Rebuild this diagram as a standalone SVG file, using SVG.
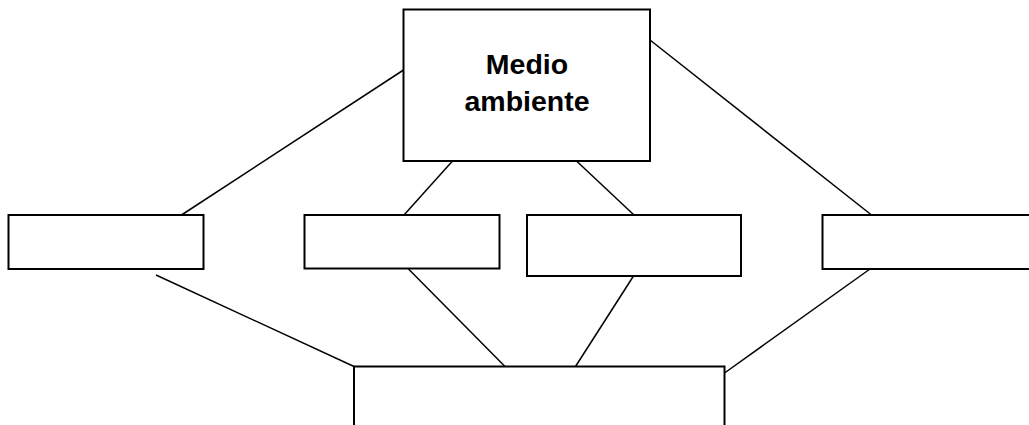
<svg xmlns="http://www.w3.org/2000/svg" width="1029" height="425" viewBox="0 0 1029 425">
<style>
.box{fill:#fff;stroke:#000;stroke-width:2}
.ln{stroke:#000;stroke-width:1.5;fill:none}
.lbl{font-family:"Liberation Sans",Arial,sans-serif;font-weight:bold;font-size:28.5px;fill:#000;text-anchor:middle}
</style>
<rect width="1029" height="425" fill="#fff"/>
<g id="connectors">
<line class="ln" x1="403.5" y1="70" x2="181.5" y2="215"/>
<line class="ln" x1="650" y1="40" x2="871.5" y2="215"/>
<line class="ln" x1="452.5" y1="161" x2="404" y2="215"/>
<line class="ln" x1="576.5" y1="161" x2="634" y2="215"/>
<line class="ln" x1="156" y1="275" x2="354" y2="366.5"/>
<line class="ln" x1="408.5" y1="269" x2="505" y2="366.5"/>
<line class="ln" x1="633.5" y1="276" x2="575.5" y2="366.5"/>
<line class="ln" x1="870" y1="269" x2="724.5" y2="373"/>
</g>
<g id="node-medio-ambiente">
<rect class="box" x="403.5" y="9.5" width="246.5" height="151.5"/>
<text class="lbl" x="527" y="74">Medio</text>
<text class="lbl" x="527" y="111">ambiente</text>
</g>
<g id="node-left"><rect class="box" x="8.5" y="215" width="195" height="54"/></g>
<g id="node-mid-left"><rect class="box" x="304.5" y="215" width="195" height="53.5"/></g>
<g id="node-mid-right"><rect class="box" x="527" y="215" width="214" height="61"/></g>
<g id="node-right"><rect class="box" x="822.5" y="215" width="220" height="54"/></g>
<g id="node-bottom"><rect class="box" x="354" y="366.5" width="370.5" height="70"/></g>
</svg>
